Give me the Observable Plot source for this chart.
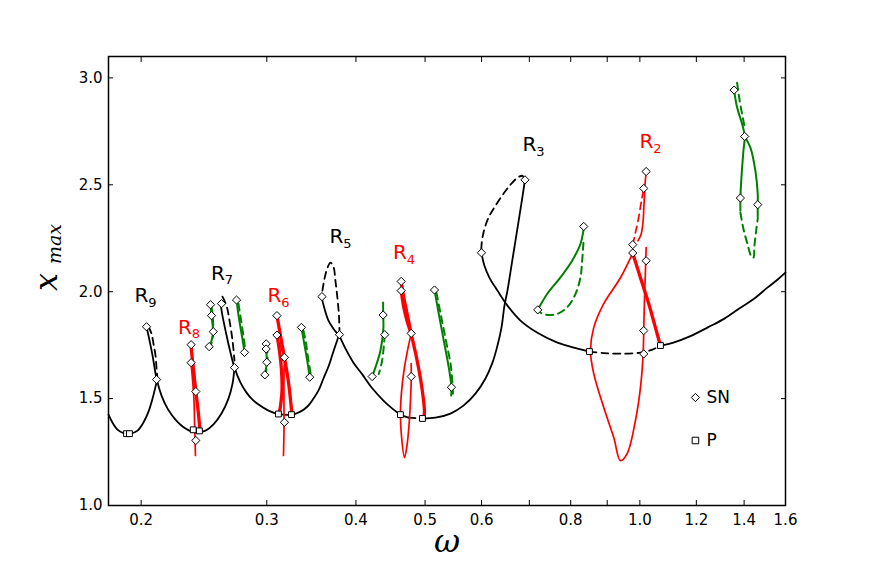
<!DOCTYPE html>
<html><head><meta charset="utf-8">
<script src="https://cdn.jsdelivr.net/npm/d3@7"></script>
<script src="https://cdn.jsdelivr.net/npm/@observablehq/plot@0.6"></script>
<style>html,body{margin:0;padding:0;background:#fff}svg{display:block}</style>
</head><body><div id="chart"></div>
<script>
// ---- axis ticks ----
const xTicks = [0.2,0.3,0.4,0.5,0.6,0.7,0.8,0.9,1.0,1.2,1.4,1.6];
const xLabeled = [0.2,0.3,0.4,0.5,0.6,0.8,1.0,1.2,1.4,1.6];
const yTicks = [1.0,1.5,2.0,2.5,3.0];

// ---- black branches [omega, x_max] ----
const blackSolid = [
  [[0.1800,1.425],[0.1823,1.388],[0.1853,1.355],[0.1889,1.339],[0.1932,1.336],[0.1977,1.350],[0.2015,1.388],[0.2048,1.439],[0.2075,1.500],[0.2095,1.556],[0.2108,1.594]],
  [[0.2035,1.836],[0.2055,1.771],[0.2075,1.701],[0.2102,1.594],[0.2136,1.514],[0.2178,1.453],[0.2234,1.402],[0.2308,1.360],[0.2383,1.341],[0.2462,1.350],[0.2526,1.379],[0.2592,1.430],[0.2651,1.500],[0.2686,1.570],[0.2703,1.645]],
  [[0.2584,1.944],[0.2600,1.888],[0.2626,1.818],[0.2660,1.734],[0.2703,1.645],[0.2756,1.575],[0.2810,1.528],[0.2865,1.495],[0.2921,1.472],[0.3016,1.444],[0.3115,1.428],[0.3249,1.425],[0.3344,1.439],[0.3421,1.463],[0.3488,1.500],[0.3544,1.537],[0.3602,1.594],[0.3661,1.650],[0.3708,1.706],[0.3744,1.748],[0.3793,1.804]],
  [[0.3579,1.977],[0.3614,1.921],[0.3661,1.865],[0.3720,1.827],[0.3793,1.790],[0.3867,1.734],[0.3968,1.668],[0.4085,1.612],[0.4219,1.547],[0.4371,1.491],[0.4500,1.453],[0.4618,1.425],[0.4739,1.411]],
  [[0.4958,1.407],[0.5170,1.411],[0.5427,1.430],[0.5659,1.467],[0.5883,1.523],[0.6076,1.594],[0.6215,1.668],[0.6316,1.748],[0.6398,1.832],[0.6460,1.935],[0.6523,2.005],[0.6607,2.121],[0.6693,2.238],[0.6780,2.355],[0.6846,2.444],[0.6902,2.523]],
  [[0.5998,2.182],[0.6056,2.121],[0.6155,2.065],[0.6316,2.005],[0.6523,1.935],[0.6802,1.865],[0.7186,1.808],[0.7665,1.762],[0.8176,1.734],[0.8498,1.720]],
  [[1.0687,1.748],[1.1144,1.762],[1.1773,1.792],[1.2436,1.832],[1.3138,1.874],[1.3834,1.925],[1.4519,1.972],[1.5093,2.019],[1.5588,2.056],[1.5995,2.089]]
];
const blackDashed = [
  [[0.2048,1.836],[0.2068,1.804],[0.2081,1.757],[0.2095,1.701],[0.2102,1.640],[0.2108,1.594]],
  [[0.2600,1.977],[0.2634,1.935],[0.2660,1.865],[0.2686,1.771],[0.2703,1.678]],
  [[0.3590,2.005],[0.3614,2.061],[0.3649,2.112],[0.3684,2.136],[0.3720,2.117],[0.3744,2.051],[0.3769,1.967],[0.3787,1.888],[0.3793,1.818]],
  [[0.4739,1.411],[0.4958,1.407]],
  [[0.6891,2.528],[0.6846,2.542],[0.6737,2.533],[0.6586,2.500],[0.6439,2.458],[0.6275,2.402],[0.6135,2.346],[0.6037,2.276],[0.5998,2.215],[0.5998,2.182]],
  [[0.8498,1.720],[0.8891,1.713],[0.9392,1.710],[1.0019,1.715],[1.0414,1.729],[1.0687,1.748]]
];

// ---- red branches ----
const redThick = [
  [[0.2349,1.748],[0.2368,1.631],[0.2387,1.528],[0.2407,1.425],[0.2418,1.350]],
  [[0.3100,1.888],[0.3136,1.794],[0.3176,1.692],[0.3218,1.575],[0.3254,1.425]],
  [[0.3100,1.799],[0.3125,1.724],[0.3146,1.631],[0.3151,1.537],[0.3136,1.467],[0.3120,1.425]],
  [[0.4629,2.047],[0.4663,1.981],[0.4709,1.911],[0.4781,1.804],[0.4847,1.715],[0.4910,1.621],[0.4966,1.514],[0.4990,1.435],[0.4974,1.407]],
  [[0.4629,2.005],[0.4663,1.935],[0.4716,1.865],[0.4781,1.804]],
  [[0.9773,2.180],[1.0019,2.065],[1.0291,1.944],[1.0515,1.832],[1.0687,1.748]]
];
const redThin = [
  [[0.2349,1.668],[0.2360,1.594],[0.2372,1.491],[0.2376,1.397],[0.2380,1.304],[0.2383,1.234]],
  [[0.3176,1.692],[0.3171,1.584],[0.3171,1.467],[0.3171,1.350],[0.3166,1.234]],
  [[0.4781,1.804],[0.4724,1.724],[0.4671,1.631],[0.4633,1.528],[0.4618,1.425],[0.4633,1.327],[0.4678,1.224],[0.4716,1.280],[0.4747,1.374],[0.4770,1.491],[0.4781,1.584],[0.4781,1.664]],
  [[1.0205,2.561],[1.0165,2.495],[1.0132,2.402],[1.0100,2.322],[1.0035,2.266],[0.9938,2.238]],
  [[1.0205,2.206],[1.0182,2.098],[1.0149,1.958],[1.0126,1.818],[1.0106,1.710],[1.0019,1.551],[0.9858,1.397],[0.9598,1.243],[0.9392,1.210],[0.9192,1.318],[0.8900,1.458],[0.8617,1.617],[0.8526,1.724],[0.8617,1.832],[0.8900,1.944],[0.9392,2.065],[0.9773,2.180]]
];
const redDashed = [
  [[0.2352,1.740],[0.2372,1.640],[0.2386,1.533]],
  [[0.3110,1.869],[0.3136,1.771],[0.3156,1.678]],
  [[0.4641,2.028],[0.4693,1.935],[0.4754,1.841]],
  [[0.9773,2.220],[0.9858,2.276],[0.9954,2.341],[1.0051,2.425],[1.0126,2.481]]
];

// ---- green branches ----
const greenSolid = [
  [[0.2502,1.939],[0.2510,1.888],[0.2522,1.813],[0.2510,1.771],[0.2491,1.743]],
  [[0.2721,1.961],[0.2741,1.880],[0.2771,1.786],[0.2792,1.716]],
  [[0.2994,1.756],[0.2994,1.732],[0.3000,1.670],[0.2981,1.611]],
  [[0.3355,1.833],[0.3380,1.771],[0.3418,1.678],[0.3446,1.600]],
  [[0.4367,1.949],[0.4367,1.891],[0.4371,1.832],[0.4329,1.724],[0.4260,1.646],[0.4215,1.603]],
  [[0.5154,2.008],[0.5226,1.896],[0.5311,1.771],[0.5397,1.646],[0.5444,1.553],[0.5439,1.514]],
  [[0.7193,1.915],[0.7414,1.989],[0.7740,2.067],[0.8037,2.145],[0.8255,2.223],[0.8327,2.277],[0.8344,2.305]],
  [[1.3555,2.943],[1.3687,2.861],[1.3910,2.784],[1.4027,2.726],[1.3968,2.659],[1.3910,2.581],[1.3856,2.495],[1.3833,2.438],[1.3833,2.379]],
  [[1.4027,2.726],[1.4287,2.674],[1.4519,2.565],[1.4628,2.457],[1.4628,2.407],[1.4628,2.347]]
];
const greenDashed = [
  [[0.2510,1.930],[0.2522,1.865],[0.2522,1.794],[0.2506,1.752]],
  [[0.2738,1.944],[0.2760,1.869],[0.2787,1.776],[0.2801,1.715]],
  [[0.3002,1.748],[0.3007,1.678],[0.2992,1.622]],
  [[0.3377,1.818],[0.3404,1.762],[0.3432,1.678],[0.3460,1.608]],
  [[0.4390,1.799],[0.4353,1.678],[0.4306,1.615]],
  [[0.5187,1.995],[0.5263,1.888],[0.5348,1.771],[0.5435,1.650],[0.5471,1.523]],
  [[0.8335,2.229],[0.8301,2.144],[0.8255,2.067],[0.8123,1.989],[0.7908,1.927],[0.7657,1.896],[0.7374,1.893],[0.7256,1.902]],
  [[1.3687,2.977],[1.3767,2.916],[1.3856,2.860],[1.4013,2.776]],
  [[1.3833,2.369],[1.3968,2.294],[1.4149,2.224],[1.4333,2.164],[1.4426,2.159],[1.4473,2.215],[1.4566,2.294],[1.4628,2.341]]
];

// ---- bifurcation points ----
const snPoints = [
  [0.2035,1.836],[0.2102,1.589],[0.2592,1.944],[0.2703,1.645],[0.3585,1.977],[0.3793,1.799],[0.6902,2.523],[0.5998,2.182],
  [0.2350,1.752],[0.2350,1.668],[0.2386,1.533],[0.2386,1.304],
  [0.2502,1.939],[0.2510,1.888],[0.2524,1.813],[0.2491,1.743],
  [0.2721,1.961],[0.2792,1.716],
  [0.2994,1.756],[0.2994,1.732],[0.3000,1.670],[0.2981,1.611],
  [0.3100,1.888],[0.3100,1.797],[0.3176,1.693],[0.3176,1.389],
  [0.3355,1.833],[0.3446,1.600],
  [0.4367,1.891],[0.4390,1.799],[0.4215,1.603],
  [0.4629,2.048],[0.4629,2.005],[0.4781,1.805],[0.4781,1.603],
  [0.5154,2.008],[0.5444,1.553],
  [0.8344,2.305],[0.7193,1.915],
  [1.0205,2.562],[1.0126,2.483],[0.9773,2.220],[0.9773,2.181],[1.0205,2.145],[1.0126,1.818],[1.0126,1.709],
  [1.3555,2.943],[1.4027,2.726],[1.3833,2.438],[1.4628,2.407]
];
const pPoints = [
  [0.1908,1.336],[0.1926,1.336],[0.2366,1.354],[0.2414,1.349],[0.3115,1.428],[0.3249,1.425],
  [0.4618,1.425],[0.4958,1.407],[0.8498,1.720],[1.0687,1.748]
];

// ---- resonance labels ----
const labelNames = ["9","8","7","6","5","4","3","2"];
const labelColors = ["black","red","black","red","black","red","black","red"];
const labelW = [0.2002,0.2304,0.2563,0.3075,0.3756,0.4610,0.7002,1.0214];
const labelX = [1.981,1.834,2.086,1.981,2.257,2.184,2.687,2.701];

// ---- legend ----
const legendNames = ["SN","P"];
const legendSymbols = ["diamond2","square"];
const legendW = [1.1964,1.1964];
const legendX = [1.505,1.304];

// ---- build tables ----
const rows = segs => segs.flatMap((s,i) => s.map(([w,x]) => ({w, x, seg:i})));
const pts = a => a.map(([w,x]) => ({w, x}));
const labels = labelNames.map((s,i) => ({sub:s, color:labelColors[i], w:labelW[i], x:labelX[i]}));
const legend = legendNames.map((n,i) => ({name:n, symbol:legendSymbols[i], w:legendW[i], x:legendX[i]}));

const lineOpts = (stroke, width, dash) => ({x:"w", y:"x", z:"seg", stroke, strokeWidth:width, strokeDasharray:dash, curve:"catmull-rom", fill:"none"});

const chart = Plot.plot({
  width: 872, height: 561,
  marginLeft: 108, marginRight: 87, marginTop: 56, marginBottom: 56,
  style: {fontFamily: "DejaVu Sans", fontSize: "15px", background: "white", color: "black"},
  x: {type: "log", domain: [0.18, 1.6]},
  y: {domain: [1.0, 3.1]},
  color: {type: "identity"},
  marks: [
    Plot.axisX({ticks: xTicks, anchor: "bottom", tickSize: -5, tickPadding: 14, tickFormat: d => xLabeled.includes(d) ? d.toFixed(1) : "", label: null, fontSize: 15}),
    Plot.axisX({ticks: xTicks, anchor: "top", tickSize: -5, tickFormat: () => "", label: null}),
    Plot.axisY({ticks: yTicks, anchor: "left", tickSize: -5, tickPadding: 11, tickFormat: d => d.toFixed(1), label: null, fontSize: 15}),
    Plot.axisY({ticks: yTicks, anchor: "right", tickSize: -5, tickFormat: () => "", label: null}),
    Plot.line(rows(greenSolid), lineOpts("#008000", 2, null)),
    Plot.line(rows(greenDashed), lineOpts("#008000", 2, "7,5")),
    Plot.line(rows(blackSolid), lineOpts("black", 1.8, null)),
    Plot.line(rows(blackDashed), lineOpts("black", 1.8, "7,5")),
    Plot.line(rows(redThin), lineOpts("red", 1.7, null)),
    Plot.line(rows(redDashed), lineOpts("red", 1.7, "7,5")),
    Plot.line(rows(redThick), lineOpts("red", 3.3, null)),
    Plot.dot(pts(snPoints), {x:"w", y:"x", symbol:"diamond2", r:3.7, fill:"white", stroke:"black", strokeWidth:1}),
    Plot.dot(pts(pPoints), {x:"w", y:"x", symbol:"square", r:3.3, fill:"white", stroke:"black", strokeWidth:1}),
    Plot.text(labels, {x:"w", y:"x", text: () => "R", fill:"color", fontSize:20}),
    Plot.text(labels, {x:"w", y:"x", text:"sub", fill:"color", fontSize:13, dx:11, dy:7}),
    Plot.dot(legend, {x:"w", y:"x", symbol:"symbol", r:3.7, fill:"white", stroke:"black", strokeWidth:1}),
    Plot.text(legend, {x:"w", y:"x", text:"name", dx:11, textAnchor:"start", fontSize:17}),
    Plot.text(["x"], {text: d => d, frameAnchor:"left", dx:-62, dy:10, rotate:-90, fontSize:32, fontStyle:"italic", fontFamily:"DejaVu Serif"}),
    Plot.text(["max"], {text: d => d, frameAnchor:"left", dx:-54, dy:-17, rotate:-90, fontSize:19, fontStyle:"italic", fontFamily:"DejaVu Serif"}),
    Plot.text(["ω"], {text: d => d, frameAnchor:"bottom", dy:46, fontSize:32, fontStyle:"italic", fontFamily:"DejaVu Serif"}),
    Plot.frame({stroke:"black", strokeWidth:1.5})
  ]
});
document.getElementById("chart").appendChild(chart);
</script>
</body></html>
